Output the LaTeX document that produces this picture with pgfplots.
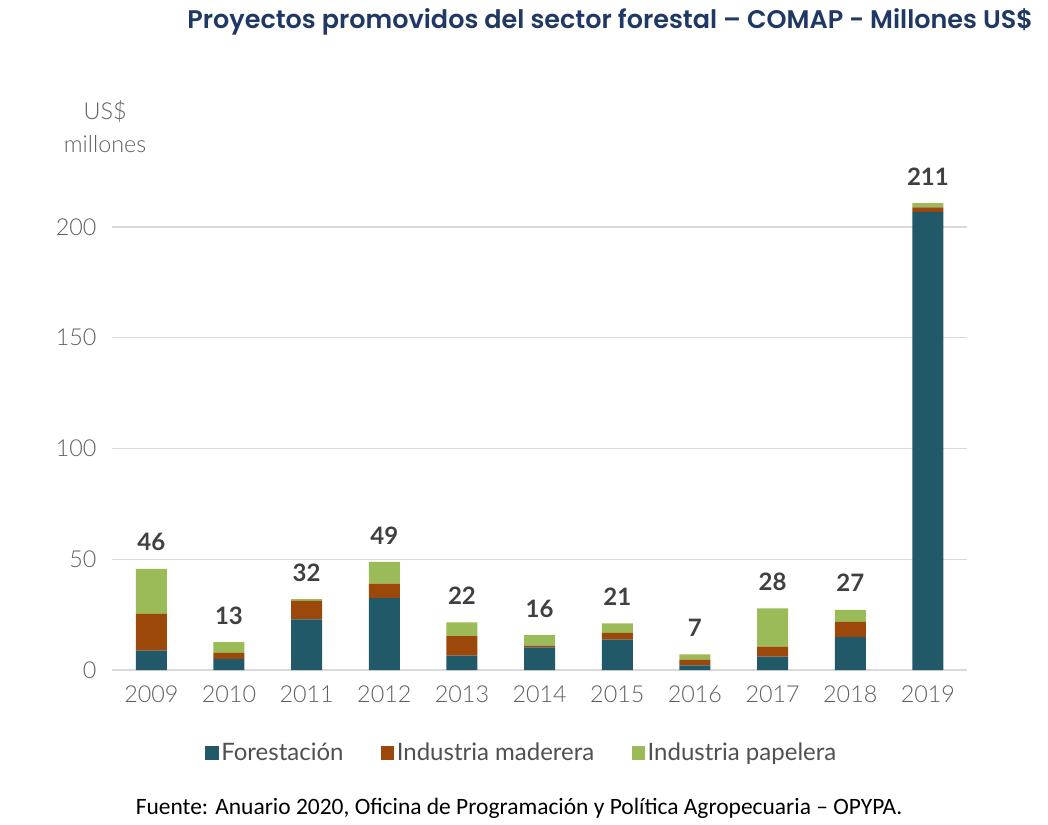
\documentclass[border=0pt]{standalone}
\usepackage{pgfplots}
\pgfplotsset{compat=1.18}
\usepackage{fontspec}
\setmainfont{Lato}
\newfontfamily\lightfont{Lato}[UprightFont={* Light}]
\newfontfamily\carlitofont{Carlito}
\newfontfamily\titlefont{Poppins}[UprightFont={* SemiBold}]
\definecolor{forest}{RGB}{34,89,104}
\definecolor{madera}{RGB}{155,72,10}
\definecolor{papel}{RGB}{155,187,89}
\definecolor{gridgray}{RGB}{217,217,217}
\definecolor{tickgray}{RGB}{95,95,95}
\definecolor{labgray}{RGB}{64,64,64}
\definecolor{leggray}{RGB}{80,80,80}
\definecolor{titleblue}{RGB}{31,56,100}
\pgfplotstableread{
x f m p t lab
0 8.7 16.6 20.3 45.6 46
1 5.0 2.7 4.9 12.6 13
2 22.9 8.3 0.8 32.0 32
3 32.5 6.5 9.8 48.8 49
4 6.5 8.8 6.2 21.5 22
5 10.2 0.8 4.7 15.7 16
6 13.7 3.1 4.3 21.1 21
7 2.1 2.6 2.4 7.1 7
8 6.0 4.5 17.3 27.8 28
9 14.8 6.9 5.5 27.2 27
10 206.8 2.1 1.9 210.8 211
}\datatable
\pgfplotsset{common/.style={
  at={(0pt,0pt)}, anchor=south west,
  scale only axis, width=641.25pt, height=365.5pt,
  xmin=-0.51, xmax=10.5, ymin=0, ymax=220,
  clip=false}}
\begin{document}
\begin{tikzpicture}
\useasboundingbox (-83.8pt,-115.5pt) rectangle (702.2pt,502.5pt);
\begin{axis}[
  common,
  ybar stacked, bar width=23.25pt,
  axis line style={draw=none},
  major tick style={draw=none},
  ytick={0,50,100,150,200},
  xtick={0,...,10},
  xticklabels={2009,2010,2011,2012,2013,2014,2015,2016,2017,2018,2019},
  ymajorgrids,
  grid style={color=gridgray, line width=1pt},
  ticklabel style={font=\lightfont\fontsize{17.5}{20}\selectfont, text=tickgray},
  /pgf/number format/assume math mode=true,
  xticklabel style={yshift=-8pt},
  yticklabel style={xshift=-8pt},
  legend style={at={(0.48,-0.17)}, anchor=center, draw=none, fill=none,
    legend columns=-1, font=\fontsize{18}{22}\selectfont, text=leggray,
    /tikz/every even column/.append style={column sep=26pt}},
  legend image code/.code={\fill[#1] (0pt,-5pt) rectangle (10pt,5pt);},
]
\addplot[fill=forest, draw=none] table[x=x,y=f] {\datatable};
\addplot[fill=madera, draw=none] table[x=x,y=m] {\datatable};
\addplot[fill=papel, draw=none] table[x=x,y=p] {\datatable};
\legend{Forestación, Industria maderera, Industria papelera}
\end{axis}
\begin{axis}[common, hide axis]
\addplot[only marks, mark=none, point meta=explicit symbolic,
  nodes near coords,
  nodes near coords style={font=\fontsize{18}{20}\selectfont\bfseries, text=labgray, anchor=center, yshift=20pt}]
  table[x=x,y=t,meta=lab] {\datatable};
\end{axis}
\node[anchor=east, font=\titlefont\fontsize{19.1}{22}\selectfont, text=titleblue] at (694.5pt,486pt) {Proyectos promovidos del sector forestal – COMAP - Millones US\$};
\node[align=center, font=\lightfont\fontsize{17.5}{24.75}\selectfont, text=tickgray] at (-5pt,407.6pt) {US\$\\millones};
\node[font=\carlitofont\fontsize{17.6}{20}\selectfont, text=black] at (305.5pt,-103.5pt) {Fuente: Anuario 2020, Oficina de Programación y Política Agropecuaria – OPYPA.};
\end{tikzpicture}
\end{document}
